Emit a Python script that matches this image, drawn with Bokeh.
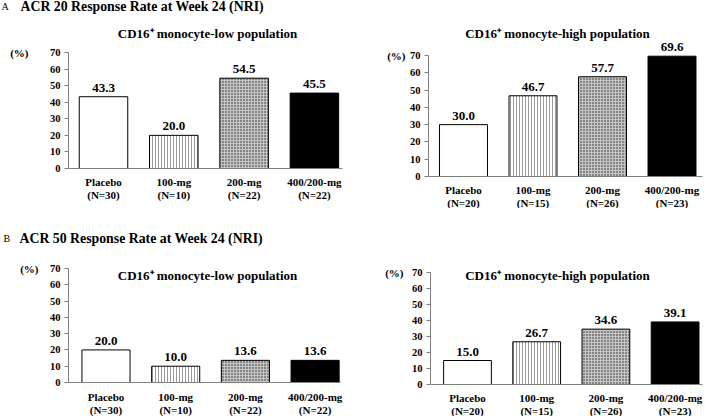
from bokeh.plotting import figure
from bokeh.models import Range1d, FixedTicker, Label, LabelSet, ColumnDataSource
from bokeh.layouts import column, row
from bokeh.embed import file_html
from bokeh.resources import INLINE

# ---- data ----
groups = ["Placebo", "100-mg", "200-mg", "400/200-mg"]
n_low = [30, 10, 22, 22]
n_high = [20, 15, 26, 23]
acr20_low = [43.3, 20.0, 54.5, 45.5]
acr20_high = [30.0, 46.7, 57.7, 69.6]
acr50_low = [20.0, 10.0, 13.6, 13.6]
acr50_high = [15.0, 26.7, 34.6, 39.1]
y_ticks = [0, 10, 20, 30, 40, 50, 60, 70]
Y_MAX = 70

FONT = "Liberation Serif"
fills = ["white", "white", "#858585", "black"]
hatches = [" ", "|", "+", " "]
hatch_colors = ["white", "#9a9a9a", "#c4c4c4", "black"]
AXIS_GRAY = "#808080"


def make_panel(vals, ns, w, h, c0, step, axis_px, axis_end_px, y0_px, ytop_px,
               pct_dx, sub, sub_dx, sub_dy, lbl_standoff=7, head=None):
    # geometry of the panel in pixels -> data ranges covering the whole canvas
    k = (y0_px - ytop_px) / Y_MAX
    x_start = -c0 / step
    x_end = (w - c0) / step
    y_start = -(h - y0_px) / k
    y_end = y0_px / k
    ax_x = (axis_px - c0) / step
    ax_end = (axis_end_px - c0) / step

    p = figure(width=w, height=h, x_range=Range1d(x_start, x_end), y_range=Range1d(y_start, y_end),
               output_backend="svg", toolbar_location=None,
               min_border_left=0, min_border_right=0, min_border_top=0, min_border_bottom=0)
    p.outline_line_color = None
    p.grid.visible = False
    p.background_fill_color = "white"
    p.border_fill_color = "white"

    xs = list(range(len(groups)))
    src = ColumnDataSource(dict(x=xs, top=vals, fill=fills, hatch=hatches, hc=hatch_colors,
                                lbl=[f"{v:.1f}" for v in vals]))
    p.vbar(x="x", top="top", bottom=0, width=0.69, source=src, fill_color="fill",
           line_color="black", line_width=1, hatch_pattern="hatch", hatch_color="hc",
           hatch_scale=3, hatch_weight=1)
    p.add_layout(LabelSet(x="x", y="top", text="lbl", source=src, text_align="center",
                          text_baseline="alphabetic", y_offset=5, text_font=FONT,
                          text_font_style="bold", text_font_size="13px", text_color="black"))

    # y axis
    ya = p.yaxis[0]
    ya.fixed_location = ax_x
    ya.bounds = (0, Y_MAX)
    ya.ticker = FixedTicker(ticks=y_ticks)
    ya.axis_line_color = AXIS_GRAY
    ya.major_tick_line_color = AXIS_GRAY
    ya.major_tick_out = 4
    ya.major_tick_in = 0
    ya.minor_tick_line_color = None
    ya.major_label_text_font = FONT
    ya.major_label_text_font_style = "bold"
    ya.major_label_text_font_size = "10.5px"
    ya.major_label_text_color = "black"
    ya.major_label_standoff = 4

    # x axis
    xa = p.xaxis[0]
    xa.fixed_location = 0
    xa.bounds = (ax_x, ax_end)
    xa.ticker = FixedTicker(ticks=xs)
    xa.major_label_overrides = {i: f"{g}\n(N={n})" for i, (g, n) in enumerate(zip(groups, ns))}
    xa.axis_line_color = AXIS_GRAY
    xa.major_tick_line_color = None
    xa.major_tick_out = 0
    xa.major_tick_in = 0
    xa.minor_tick_line_color = None
    xa.major_label_text_font = FONT
    xa.major_label_text_font_style = "bold"
    xa.major_label_text_font_size = "11px"
    xa.major_label_text_line_height = 1.1
    xa.major_label_text_color = "black"
    xa.major_label_standoff = lbl_standoff

    p.add_layout(Label(x=ax_x, y=Y_MAX, x_offset=pct_dx, y_offset=0, text="(%)",
                       text_align="right", text_baseline="middle", text_font=FONT,
                       text_font_style="bold", text_font_size="11px", text_color="black"))
    p.add_layout(Label(x=ax_x, y=Y_MAX, x_offset=sub_dx, y_offset=sub_dy, text=sub,
                       text_align="center", text_baseline="middle", text_font=FONT,
                       text_font_style="bold", text_font_size="13px", text_color="black"))
    if head is not None:
        letter, title, l_dx, t_dx, dy = head
        p.add_layout(Label(x=ax_x, y=Y_MAX, x_offset=l_dx, y_offset=dy, text=letter,
                           text_align="left", text_baseline="middle", text_font=FONT,
                           text_font_size="10px", text_color="black"))
        p.add_layout(Label(x=ax_x, y=Y_MAX, x_offset=t_dx, y_offset=dy, text=title,
                           text_align="left", text_baseline="middle", text_font=FONT,
                           text_font_style="bold", text_font_size="13.8px", text_color="black"))
    return p


sub_low = "CD16\u207a monocyte-low population"
sub_high = "CD16\u207a monocyte-high population"

f1 = make_panel(acr20_low, n_low, 355, 208, 103, 70.3, 68, 342, 168, 52,
                -40, sub_low, 139, 19,
                head=("A", "ACR 20 Response Rate at Week 24 (NRI)", -67, -48, 46))
f2 = make_panel(acr20_high, n_high, 354, 208, 108, 69.5, 73, 347, 176, 55,
                -23, sub_high, 129, 22)
f3 = make_panel(acr50_low, n_low, 355, 208, 105.5, 69.7, 68, 340, 174, 60,
                -30, sub_low, 139, -7, lbl_standoff=8,
                head=("B", "ACR 50 Response Rate at Week 24 (NRI)", -65, -49, 30))
f4 = make_panel(acr50_high, n_high, 354, 208, 112, 69.2, 75, 347, 176, 64,
                -27, sub_high, 127, -3)

layout = column(row(f1, f2), row(f3, f4))
open("out.html", "w").write(file_html(layout, INLINE))
